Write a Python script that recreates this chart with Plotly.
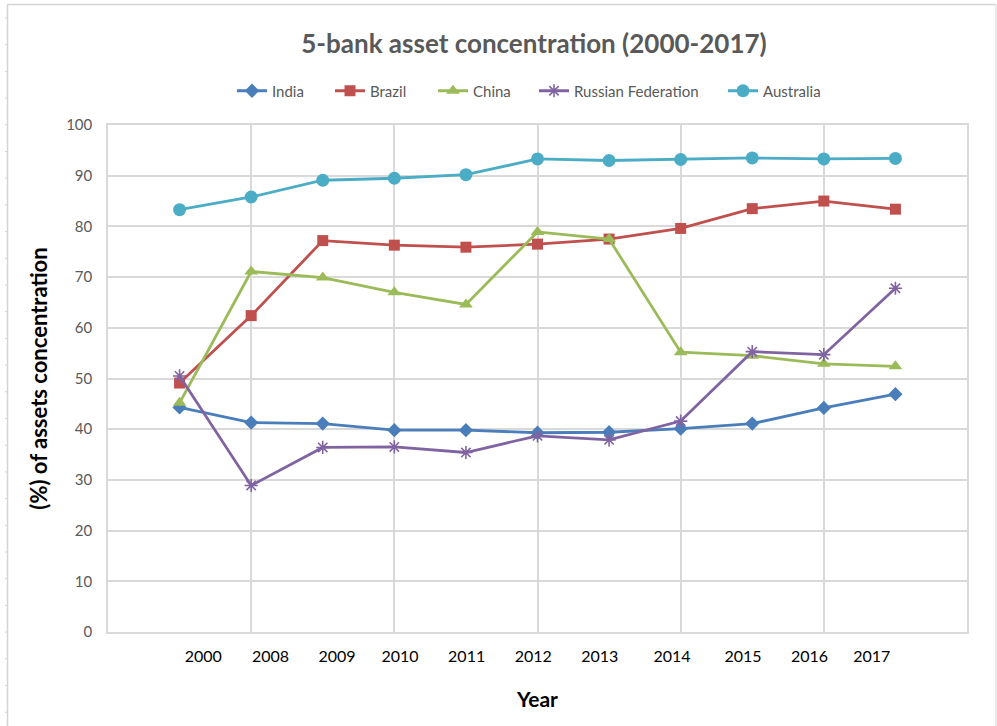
import plotly.graph_objects as go

# Categories and series (percent of assets held by the five largest banks)
years = ["2000", "2008", "2009", "2010", "2011", "2012", "2013", "2014", "2015", "2016", "2017"]
india = [44.3, 41.3, 41.1, 39.8, 39.8, 39.3, 39.4, 40.1, 41.1, 44.2, 46.9]
brazil = [49.1, 62.4, 77.2, 76.3, 75.9, 76.5, 77.5, 79.6, 83.5, 85.0, 83.4]
china = [45.2, 71.1, 69.9, 67.0, 64.6, 78.9, 77.5, 55.2, 54.5, 52.9, 52.4]
russia = [50.5, 28.9, 36.4, 36.5, 35.4, 38.7, 37.9, 41.6, 55.3, 54.7, 67.8]
australia = [83.3, 85.8, 89.1, 89.5, 90.2, 93.3, 93.0, 93.2, 93.5, 93.3, 93.4]

series = [
    ("India", india, "#4A7EBB", "diamond", 11),
    ("Brazil", brazil, "#C0504D", "square", 11),
    ("China", china, "#9BBB59", "triangle-up", 12),
    ("Russian Federation", russia, "#8064A2", "asterisk-open", 11),
    ("Australia", australia, "#4BACC6", "circle", 13),
]

# category slots 1..11 on a 0..12 axis
x_idx = list(range(1, len(years) + 1))
label_pos = [1.33, 2.27, 3.20, 4.08, 5.01, 5.94, 6.87, 7.88, 8.87, 9.80, 10.67]

# left edge (px) of each legend entry in the top row
legend_left = [237, 335, 438, 539, 728]

W, H = 997, 726
L, R, T, B = 108, 30, 125, 94
pw, ph = W - L - R, H - T - B


def px_x(p):
    return (p - L) / pw


def px_y(p):
    return (H - B - p) / ph


grid = "#D9D9D9"
font_family = "Lato, 'Open Sans', sans-serif"

fig = go.Figure()
legend_layout = {}
for i, (name, vals, color, sym, size) in enumerate(series):
    key = "legend" if i == 0 else f"legend{i + 1}"
    fig.add_trace(go.Scatter(
        x=x_idx, y=vals, name=name, mode="lines+markers",
        line=dict(color=color, width=2.8),
        marker=dict(symbol=sym, size=size, color=color,
                    line=dict(color=color, width=1.6 if sym == "asterisk-open" else 0)),
        legend=key, showlegend=True,
    ))
    legend_layout[key] = dict(
        orientation="h", x=px_x(legend_left[i] - 5), xanchor="left",
        y=px_y(91), yanchor="middle", itemwidth=30,
        font=dict(size=15, color="#595959"), bgcolor="rgba(0,0,0,0)",
    )

# outer chart-area frame with small ruler ticks on the left edge
shapes = [
    dict(type="line", xref="paper", yref="paper", x0=px_x(7.5), x1=px_x(7.5), y0=px_y(4.5), y1=px_y(H),
         line=dict(color="#D4D4D4", width=1.5)),
    dict(type="line", xref="paper", yref="paper", x0=px_x(7.5), x1=px_x(996), y0=px_y(4.5), y1=px_y(4.5),
         line=dict(color="#D4D4D4", width=1.5)),
    dict(type="line", xref="paper", yref="paper", x0=px_x(996), x1=px_x(996), y0=px_y(4.5), y1=px_y(H),
         line=dict(color="#E4E4E4", width=1.5)),
]
ty = 18
while ty < H:
    shapes.append(dict(type="line", xref="paper", yref="paper", x0=px_x(5), x1=px_x(7), y0=px_y(ty), y1=px_y(ty),
                       line=dict(color="#D4D4D4", width=1)))
    ty += 26.7

fig.update_layout(
    width=W, height=H,
    margin=dict(l=L, r=R, t=T, b=B),
    showlegend=True,
    paper_bgcolor="white", plot_bgcolor="white",
    font=dict(family=font_family, color="#595959", size=14),
    title=dict(text="<b>5-bank asset concentration (2000-2017)</b>",
               x=px_x(534), xref="paper", xanchor="center",
               y=1 - 44 / H, yref="container", yanchor="middle",
               font=dict(size=26, color="#595959", family=font_family)),
    xaxis=dict(range=[0, 12], tickvals=label_pos, ticktext=years,
               showgrid=False, zeroline=False,
               showline=True, linecolor=grid, linewidth=1.5, mirror=True,
               ticks="outside", ticklen=9, tickcolor="rgba(0,0,0,0)",
               tickfont=dict(size=16, color="black"),
               minor=dict(tickvals=[2, 4, 6, 8, 10], showgrid=True, gridcolor=grid, gridwidth=1.5),
               title=dict(text="<b>Year</b>", font=dict(size=21, color="black"), standoff=28)),
    yaxis=dict(range=[0, 100], dtick=10, showgrid=True, gridcolor=grid, gridwidth=1.5,
               zeroline=False, showline=True, linecolor=grid, linewidth=1.5, mirror=True,
               ticks="outside", ticklen=11, tickcolor="rgba(0,0,0,0)",
               tickfont=dict(size=15, color="#595959"),
               title=dict(text="<b>(%) of assets concentration</b>", font=dict(size=22, color="black"),
                          standoff=12)),
    shapes=shapes,
    **legend_layout,
)

fig.write_html("out.html")
